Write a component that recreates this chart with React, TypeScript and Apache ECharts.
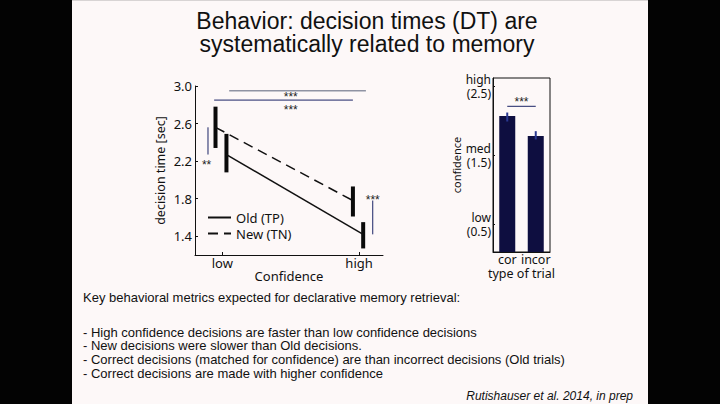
import React, { useEffect, useRef } from "react";
import * as echarts from "echarts";

// ---- Left chart data: decision time vs confidence ----
const oldLine = [[1.03, 2.27], [2.03, 1.42]]; // Old (TP)
const newLine = [[0.95, 2.56], [1.955, 1.78]]; // New (TN)
// [x, low, high]
const dtErrorBars = [
  [0.95, 2.34, 2.78],
  [1.03, 2.08, 2.49],
  [1.955, 1.61, 1.93],
  [2.03, 1.27, 1.55],
];
const dtYTicks = [1.4, 1.8, 2.2, 2.6, 3.0];
const dtXTicks = [1, 2];
const dtXLabels = ["low", "high"];
// significance segments [x1, y1, x2, y2]
const sigGray = [[1.05, 2.95, 2.05, 2.95]];
const sigNavy = [
  [0.94, 2.85, 1.955, 2.85],
  [0.895, 2.56, 0.895, 2.27],
  [2.1, 1.78, 2.1, 1.42],
];
const sigTextPos = [[1.5, 2.88], [1.5, 2.74], [0.885, 2.155], [2.1, 1.79]];
const sigTextLabels = ["***", "***", "**", "***"];

// ---- Right chart data: confidence by trial type ----
const trialTypes = ["cor", "incor"];
const confValues = [2.07, 1.78];
const confErr = [[0, 1.99, 2.12], [1, 1.73, 1.85]];
const confTicks = [0.5, 1.5, 2.5];
const confTickLabels = ["low\n(0.5)", "med\n(1.5)", "high\n(2.5)"];
const confSigY = 2.21;
const confSigTextY = 2.27;

const titleLines = ["Behavior: decision times (DT) are", "systematically related to memory"];
const bodyLines = [
  "Key behavioral metrics expected for declarative memory retrieval:",
  "",
  "- High confidence decisions are faster than low confidence decisions",
  "- New decisions were slower than Old decisions.",
  "- Correct decisions (matched for confidence) are than incorrect decisions (Old trials)",
  "- Correct decisions are made with higher confidence",
];
const citation = "Rutishauser et al. 2014, in prep";

const CF = "Noto Sans";
const SF = "Liberation Sans";
const NAVY = "#1b2466";
const GRAY = "#8f93a3";

export default function App() {
  const ref = useRef<HTMLDivElement>(null);
  useEffect(() => {
    const chart = echarts.init(ref.current!, undefined, { renderer: "svg" });

    const segRender = (color: string, width: number) => (params: any, api: any) => {
      const p1 = api.coord([api.value(0), api.value(1)]);
      const p2 = api.coord([api.value(2), api.value(3)]);
      return {
        type: "line",
        shape: { x1: p1[0], y1: p1[1], x2: p2[0], y2: p2[1] },
        style: { stroke: color, lineWidth: width },
      };
    };
    const errRender = (color: string, width: number) => (params: any, api: any) => {
      const x = api.value(0);
      const p1 = api.coord([x, api.value(1)]);
      const p2 = api.coord([x, api.value(2)]);
      return {
        type: "line",
        shape: { x1: p1[0], y1: p1[1], x2: p2[0], y2: p2[1] },
        style: { stroke: color, lineWidth: width },
      };
    };

    const graphics: any[] = [
      { type: "rect", shape: { x: 0, y: 0, width: 72, height: 404 }, style: { fill: "#030303" } },
      { type: "rect", shape: { x: 648, y: 0, width: 72, height: 404 }, style: { fill: "#030303" } },
      { type: "line", shape: { x1: 72, y1: 0.5, x2: 648, y2: 0.5 }, style: { stroke: "#d8d4d4", lineWidth: 1 } },
      ...titleLines.map((t, i) => ({
        type: "text",
        x: 367,
        y: 21 + i * 23,
        style: { text: t, fontFamily: SF, fontSize: 23, fill: "#111", align: "center", verticalAlign: "middle" },
      })),
      ...bodyLines.map((t, i) => ({
        type: "text",
        x: 83,
        y: i === 0 ? 297 : 305 + i * 13.6,
        style: { text: t, fontFamily: SF, fontSize: 13, fill: "#111", align: "left", verticalAlign: "middle" },
      })),
      {
        type: "text",
        x: 633,
        y: 396,
        style: { text: citation, fontFamily: SF, fontSize: 12, fontStyle: "italic", fill: "#111", align: "right", verticalAlign: "middle" },
      },
    ];

    const option: any = {
      animation: false,
      backgroundColor: "#fdf8f8",
      graphic: graphics,
      grid: [
        { left: 195, top: 86, width: 188, height: 169, containLabel: false },
        { left: 493, top: 78, width: 57, height: 174, show: true, borderColor: "#111", borderWidth: 1, backgroundColor: "transparent" },
      ],
      legend: {
        left: 207,
        top: 211,
        orient: "vertical",
        itemWidth: 23,
        itemHeight: 12,
        itemGap: 3,
        itemStyle: { opacity: 0 },
        textStyle: { fontFamily: CF, fontSize: 13, color: "#111" },
        data: ["Old (TP)", "New (TN)"],
        padding: 0,
      },
      xAxis: [
        {
          type: "value",
          gridIndex: 0,
          min: 0.8,
          max: 2.175,
          splitLine: { show: false },
          axisLine: { show: true, lineStyle: { color: "#111", width: 1 } },
          axisTick: { show: true, inside: true, length: 3, customValues: dtXTicks, lineStyle: { color: "#111" } },
          axisLabel: {
            customValues: dtXTicks,
            formatter: (v: number) => dtXLabels[dtXTicks.indexOf(Math.round(v))] ?? "",
            fontFamily: CF,
            fontSize: 13,
            color: "#111",
            margin: 1,
          },
          name: "Confidence",
          nameLocation: "middle",
          nameGap: 13,
          nameTextStyle: { fontFamily: CF, fontSize: 13, color: "#111" },
        },
        {
          type: "category",
          gridIndex: 1,
          data: trialTypes,
          axisLine: { show: true, lineStyle: { color: "#111" } },
          axisTick: { show: false },
          axisLabel: { interval: 0, fontFamily: CF, fontSize: 12.5, color: "#111", margin: 1, lineHeight: 13 },
          name: "type of trial",
          nameLocation: "middle",
          nameGap: 13,
          nameTextStyle: { fontFamily: CF, fontSize: 12.5, color: "#111", lineHeight: 13 },
        },
      ],
      yAxis: [
        {
          type: "value",
          gridIndex: 0,
          min: 1.2,
          max: 3.0,
          splitLine: { show: false },
          axisLine: { show: true, lineStyle: { color: "#111", width: 1 } },
          axisTick: { show: true, inside: true, length: 3, customValues: dtYTicks, lineStyle: { color: "#111" } },
          axisLabel: {
            customValues: dtYTicks,
            formatter: (v: number) => v.toFixed(1),
            fontFamily: CF,
            fontSize: 13,
            color: "#111",
            margin: 3,
          },
          name: "decision time [sec]",
          nameLocation: "middle",
          nameRotate: 90,
          nameGap: 28,
          nameTextStyle: { fontFamily: CF, fontSize: 12.5, color: "#111" },
        },
        {
          type: "value",
          gridIndex: 1,
          min: 0.1,
          max: 2.62,
          splitLine: { show: false },
          axisLine: { show: true, lineStyle: { color: "#111" } },
          axisTick: { show: true, inside: true, length: 2, customValues: confTicks, lineStyle: { color: "#111" } },
          axisLabel: {
            customValues: confTicks,
            formatter: (v: number) => confTickLabels[confTicks.indexOf(v)] ?? "",
            fontFamily: CF,
            fontSize: 12,
            lineHeight: 14,
            color: "#111",
            margin: 2,
          },
          name: "confidence",
          nameLocation: "middle",
          nameRotate: 90,
          nameGap: 29,
          nameTextStyle: { fontFamily: CF, fontSize: 11, color: "#111" },
        },
      ],
      series: [
        {
          name: "Old (TP)",
          type: "line",
          xAxisIndex: 0,
          yAxisIndex: 0,
          data: oldLine,
          symbol: "none",
          lineStyle: { color: "#111", width: 1.5, type: "solid" },
          itemStyle: { color: "#111" },
        },
        {
          name: "New (TN)",
          type: "line",
          xAxisIndex: 0,
          yAxisIndex: 0,
          data: newLine,
          symbol: "none",
          lineStyle: { color: "#111", width: 1.5, type: [10, 6] },
          itemStyle: { color: "#111" },
        },
        {
          type: "custom",
          xAxisIndex: 0,
          yAxisIndex: 0,
          data: dtErrorBars,
          renderItem: errRender("#0a0a0a", 4),
          encode: { x: 0, y: [1, 2] },
          silent: true,
        },
        {
          type: "custom",
          xAxisIndex: 0,
          yAxisIndex: 0,
          data: sigGray,
          renderItem: segRender(GRAY, 1.5),
          encode: { x: [0, 2], y: [1, 3] },
          silent: true,
        },
        {
          type: "custom",
          xAxisIndex: 0,
          yAxisIndex: 0,
          data: sigNavy,
          renderItem: segRender(NAVY, 1),
          encode: { x: [0, 2], y: [1, 3] },
          silent: true,
        },
        {
          type: "custom",
          xAxisIndex: 0,
          yAxisIndex: 0,
          data: sigTextPos,
          encode: { x: 0, y: 1 },
          silent: true,
          renderItem: (params: any, api: any) => {
            const p = api.coord([api.value(0), api.value(1)]);
            return {
              type: "text",
              x: p[0],
              y: p[1],
              style: {
                text: sigTextLabels[params.dataIndex],
                fontFamily: SF,
                fontSize: 12,
                fill: "#222",
                align: "center",
                verticalAlign: "middle",
              },
            };
          },
        },
        {
          type: "bar",
          xAxisIndex: 1,
          yAxisIndex: 1,
          data: confValues,
          barWidth: 16,
          itemStyle: { color: "#0e0e40" },
        },
        {
          type: "custom",
          xAxisIndex: 1,
          yAxisIndex: 1,
          data: confErr,
          renderItem: errRender("#2a3890", 2),
          encode: { x: 0, y: [1, 2] },
          silent: true,
          z: 5,
        },
        {
          type: "custom",
          xAxisIndex: 1,
          yAxisIndex: 1,
          data: [[0, confSigY, 1, confSigY]],
          renderItem: (params: any, api: any) => {
            const p1 = api.coord([0, confSigY]);
            const p2 = api.coord([1, confSigY]);
            const pt = api.coord([0, confSigTextY]);
            return {
              type: "group",
              children: [
                { type: "line", shape: { x1: p1[0], y1: p1[1], x2: p2[0], y2: p2[1] }, style: { stroke: NAVY, lineWidth: 1 } },
                {
                  type: "text",
                  x: (p1[0] + p2[0]) / 2,
                  y: pt[1],
                  style: { text: "***", fontFamily: SF, fontSize: 12, fill: "#222", align: "center", verticalAlign: "middle" },
                },
              ],
            };
          },
          silent: true,
        },
      ],
    };
    chart.setOption(option);
    return () => chart.dispose();
  }, []);
  return <div ref={ref} style={{ position: "absolute", left: 0, top: 0, width: 720, height: 404 }} />;
}
